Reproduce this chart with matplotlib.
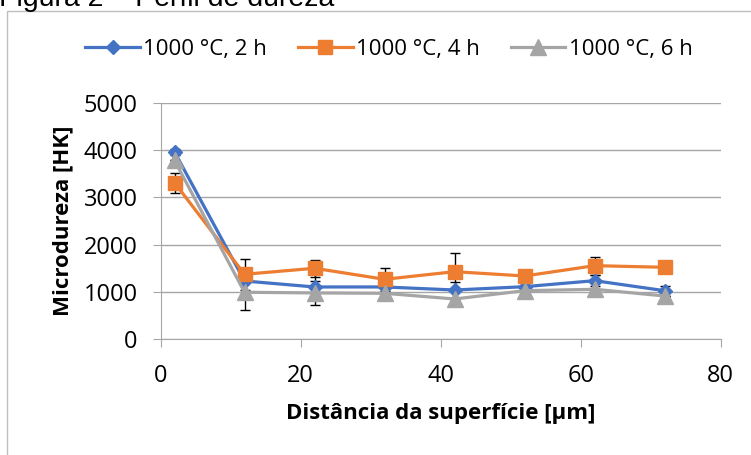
import matplotlib
matplotlib.use("Agg")
import matplotlib.pyplot as plt
from matplotlib.patches import Rectangle

x = [2, 12, 22, 32, 42, 52, 62, 72]
s2h = [3960, 1232, 1106, 1106, 1042, 1112, 1239, 1027]
s4h = [3311, 1374, 1501, 1268, 1429, 1338, 1556, 1522]
s6h = [3780, 994, 980, 972, 852, 1027, 1057, 915]
e2h = [63, 0, 275, 0, 170, 0, 120, 106]
e4h = [211, 330, 176, 246, 400, 0, 190, 0]
e6h = [0, 374, 255, 0, 0, 0, 0, 0]
labels = ["1000 °C, 2 h", "1000 °C, 4 h", "1000 °C, 6 h"]
colors = ["#4472C4", "#ED7D31", "#A5A5A5"]

W, H = 751, 455
fig = plt.figure(figsize=(W/100, H/100), dpi=100)
L, R, T, B = 160.5, 720.7, 102.7, 339.3
ax = fig.add_axes([L/W, 1-B/H, (R-L)/W, (B-T)/H])

fig.patches.append(Rectangle((7/W, -0.1), 1.0, 1-10.5/H+0.1, transform=fig.transFigure,
                             fill=False, edgecolor="#BFBFBF", linewidth=1.0))
fig.text(-1/W, 1-6/H, "Figura 2 – Perfil de dureza", fontsize=20.5, family="Liberation Sans",
         va="baseline", ha="left")

font = "Open Sans"
handles = []
for ys, es, c, m, ms, lab in [(s2h, e2h, colors[0], "D", 7.5, labels[0]),
                               (s4h, e4h, colors[1], "s", 9.5, labels[1]),
                               (s6h, e6h, colors[2], "^", 11, labels[2])]:
    ax.errorbar(x, ys, yerr=es, fmt="none", ecolor="black", elinewidth=1.0,
                capsize=3.6, capthick=1.0, zorder=2)
    h, = ax.plot(x, ys, color=c, marker=m, markersize=ms, linewidth=2.3, label=lab, zorder=3)
    handles.append(h)

ax.set_xlim(0, 80)
ax.set_ylim(0, 5000)
ax.set_xticks([0, 20, 40, 60, 80])
ax.set_yticks([0, 1000, 2000, 3000, 4000, 5000])
ax.grid(axis="y", color="#A6A6A6", linewidth=1.0)
ax.set_axisbelow(True)
for s in ["top", "right"]:
    ax.spines[s].set_visible(False)
for s in ["left", "bottom"]:
    ax.spines[s].set_color("#A6A6A6")
ax.tick_params(axis="both", colors="#A6A6A6", labelcolor="black", labelsize=17,
               length=5.5, direction="out")
for t in ax.get_xticklabels() + ax.get_yticklabels():
    t.set_family(font)
ax.tick_params(axis="x", pad=12)
ax.tick_params(axis="y", pad=11)
ax.set_xlabel("Distância da superfície [µm]", fontsize=16, fontweight="bold",
              family=font, labelpad=11)
ax.set_ylabel("Microdureza [HK]", fontsize=16, fontweight="bold", family=font, labelpad=7)

fig.legend(handles=handles, loc="center", bbox_to_anchor=(389/W, 1-49/H), ncol=3,
           frameon=False, prop={"family": font, "size": 16}, handlelength=2.45,
           columnspacing=1.4, handletextpad=0.15)

fig.savefig("out.png", dpi=100)
